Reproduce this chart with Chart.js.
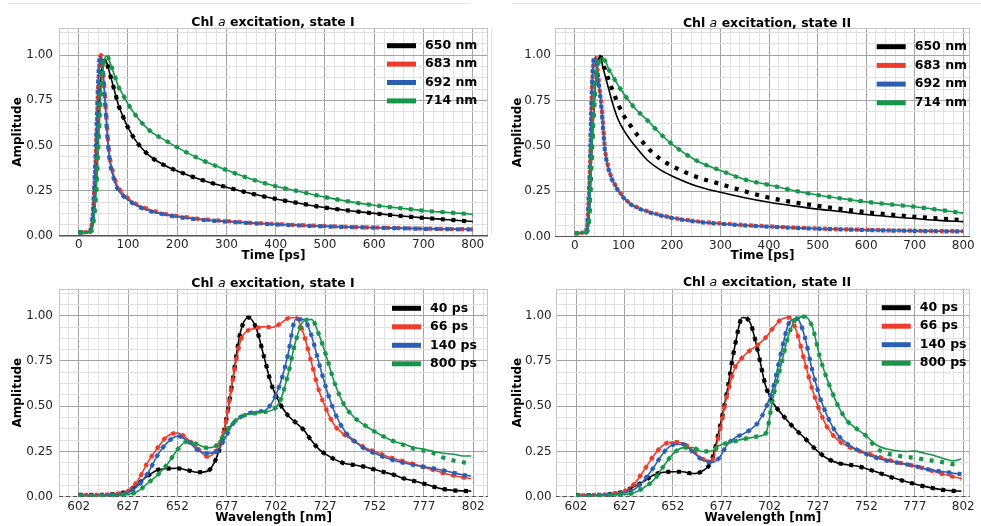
<!DOCTYPE html>
<html>
<head>
<meta charset="utf-8">
<script src="https://cdn.jsdelivr.net/npm/chart.js@4.4.1/dist/chart.umd.min.js"></script>
<style>
  body { margin: 0; background: #fff; width: 981px; height: 526px; position: relative; overflow: hidden; font-family: "DejaVu Sans", sans-serif; }
  canvas { position: absolute; }
  .ttl { position: absolute; font-weight: bold; font-size: 12.5px; transform: translate(-50%, -50%); white-space: nowrap; color: #000; }
  .ttl i { font-weight: normal; }
  .rule { position: absolute; background: #e6e6e6; }
</style>
</head>
<body>
<div class="rule" style="left:8px;top:3px;width:462px;height:1px"></div>
<div class="rule" style="left:512px;top:3px;width:469px;height:1px"></div>
<div class="rule" style="left:491px;top:28px;width:1px;height:206px"></div>

<canvas id="p1" width="490" height="266" style="left:0;top:0"></canvas>
<canvas id="p2" width="489" height="266" style="left:492px;top:0"></canvas>
<canvas id="p3" width="490" height="258" style="left:0;top:268px"></canvas>
<canvas id="p4" width="489" height="258" style="left:492px;top:268px"></canvas>

<div class="ttl" style="left:273px;top:20.5px">Chl <i>a</i> excitation, state I</div>
<div class="ttl" style="left:767px;top:21.5px">Chl <i>a</i> excitation, state II</div>
<div class="ttl" style="left:273px;top:281.5px">Chl <i>a</i> excitation, state I</div>
<div class="ttl" style="left:767px;top:281px">Chl <i>a</i> excitation, state II</div>

<script>
// ---- data: decay traces ----
const timePs = [0, 10, 20, 25, 28, 31, 34, 37, 40, 43, 46, 49, 52, 55, 58, 62, 66, 70, 75, 80,
  90, 100, 115, 130, 150, 175, 200, 250, 300, 350, 400, 450, 500, 550, 600, 650, 700, 750, 800];

// state I
const nm650_I = [0.02, 0.02, 0.022, 0.03, 0.06, 0.14, 0.27, 0.45, 0.64, 0.80, 0.90, 0.95, 0.975, 0.97, 0.95, 0.91, 0.87, 0.83, 0.78, 0.73,
  0.66, 0.60, 0.53, 0.48, 0.43, 0.39, 0.36, 0.31, 0.27, 0.235, 0.205, 0.18, 0.157, 0.14, 0.125, 0.112, 0.10, 0.09, 0.08];
const nm683_I = [0.02, 0.02, 0.025, 0.04, 0.10, 0.22, 0.40, 0.62, 0.85, 0.98, 1.0, 0.93, 0.82, 0.70, 0.58, 0.46, 0.39, 0.35, 0.30, 0.27,
  0.235, 0.21, 0.18, 0.16, 0.14, 0.122, 0.11, 0.093, 0.082, 0.073, 0.066, 0.06, 0.055, 0.05, 0.047, 0.044, 0.041, 0.039, 0.037];
const nm692_I = [0.02, 0.02, 0.025, 0.045, 0.11, 0.24, 0.43, 0.66, 0.88, 0.99, 0.99, 0.91, 0.80, 0.68, 0.56, 0.44, 0.37, 0.33, 0.285, 0.255,
  0.222, 0.20, 0.172, 0.152, 0.134, 0.118, 0.106, 0.09, 0.08, 0.071, 0.064, 0.058, 0.053, 0.049, 0.046, 0.043, 0.04, 0.038, 0.036];
const nm714_I = [0.02, 0.02, 0.022, 0.025, 0.04, 0.10, 0.18, 0.32, 0.50, 0.68, 0.84, 0.93, 0.97, 0.995, 0.995, 0.97, 0.94, 0.91, 0.87, 0.83,
  0.78, 0.73, 0.67, 0.62, 0.57, 0.53, 0.49, 0.42, 0.365, 0.315, 0.275, 0.245, 0.215, 0.19, 0.17, 0.155, 0.14, 0.13, 0.12];

// state II
const nm650_II = [0.02, 0.02, 0.02, 0.03, 0.07, 0.20, 0.42, 0.60, 0.74, 0.86, 0.94, 0.98, 1.0, 0.97, 0.93, 0.89, 0.85, 0.81, 0.76, 0.715,
  0.64, 0.59, 0.53, 0.48, 0.42, 0.37, 0.335, 0.28, 0.245, 0.215, 0.19, 0.17, 0.152, 0.138, 0.122, 0.11, 0.10, 0.09, 0.083];
const nm650_II_dots = [0.02, 0.02, 0.02, 0.03, 0.07, 0.20, 0.42, 0.60, 0.74, 0.86, 0.94, 0.98, 1.0, 0.975, 0.95, 0.92, 0.89, 0.86, 0.825, 0.79,
  0.725, 0.67, 0.61, 0.555, 0.49, 0.43, 0.39, 0.33, 0.29, 0.25, 0.215, 0.19, 0.17, 0.152, 0.135, 0.122, 0.11, 0.10, 0.092];
const nm683_II = [0.02, 0.02, 0.025, 0.05, 0.18, 0.36, 0.70, 0.91, 0.98, 0.985, 0.93, 0.86, 0.79, 0.72, 0.62, 0.48, 0.42, 0.37, 0.33, 0.30,
  0.255, 0.22, 0.18, 0.16, 0.14, 0.12, 0.105, 0.085, 0.073, 0.064, 0.057, 0.05, 0.045, 0.041, 0.038, 0.035, 0.033, 0.031, 0.03];
const nm692_II = [0.02, 0.02, 0.025, 0.055, 0.20, 0.40, 0.73, 0.93, 0.985, 0.98, 0.92, 0.85, 0.78, 0.70, 0.60, 0.47, 0.41, 0.365, 0.325, 0.295,
  0.25, 0.215, 0.178, 0.157, 0.137, 0.118, 0.103, 0.083, 0.071, 0.062, 0.055, 0.049, 0.044, 0.04, 0.037, 0.034, 0.032, 0.03, 0.029];
const nm714_II = [0.02, 0.02, 0.02, 0.03, 0.06, 0.20, 0.45, 0.60, 0.74, 0.86, 0.93, 0.96, 0.975, 0.985, 0.985, 0.97, 0.95, 0.92, 0.90, 0.875,
  0.83, 0.79, 0.735, 0.69, 0.64, 0.57, 0.51, 0.42, 0.365, 0.315, 0.285, 0.255, 0.23, 0.21, 0.192, 0.178, 0.165, 0.148, 0.13];

// ---- data: spectra ----
const wavelengthNm = [602, 607, 612, 617, 622, 627, 632, 637, 642, 647, 652, 657, 662, 667, 672,
  676, 680, 684, 688, 692, 696, 700, 704, 708, 712, 716, 720, 724, 728, 732,
  737, 742, 747, 752, 757, 762, 767, 772, 777, 782, 787, 792, 797, 801];

const ps40_I = [0.01, 0.01, 0.01, 0.012, 0.018, 0.03, 0.07, 0.115, 0.148, 0.155, 0.157, 0.147, 0.135, 0.14, 0.22,
  0.38, 0.64, 0.91, 0.99, 0.93, 0.77, 0.61, 0.515, 0.45, 0.41, 0.37, 0.31, 0.26, 0.23, 0.205,
  0.183, 0.175, 0.165, 0.15, 0.135, 0.12, 0.10, 0.087, 0.072, 0.055, 0.042, 0.035, 0.032, 0.031];
const ps66_I = [0.01, 0.01, 0.01, 0.012, 0.018, 0.032, 0.09, 0.19, 0.27, 0.335, 0.352, 0.32, 0.27, 0.222, 0.262,
  0.38, 0.64, 0.86, 0.92, 0.93, 0.94, 0.935, 0.955, 0.985, 0.99, 0.90, 0.74, 0.58, 0.47, 0.39,
  0.34, 0.305, 0.272, 0.25, 0.228, 0.21, 0.195, 0.18, 0.163, 0.147, 0.13, 0.117, 0.106, 0.10];
const ps140_I = [0.008, 0.008, 0.008, 0.01, 0.013, 0.022, 0.06, 0.13, 0.23, 0.30, 0.335, 0.31, 0.26, 0.24, 0.25,
  0.32, 0.40, 0.44, 0.46, 0.47, 0.475, 0.52, 0.62, 0.78, 0.98, 0.98, 0.89, 0.73, 0.58, 0.46,
  0.36, 0.305, 0.265, 0.24, 0.218, 0.20, 0.186, 0.175, 0.165, 0.156, 0.145, 0.132, 0.12, 0.114];
const ps800_I = [0.005, 0.005, 0.005, 0.006, 0.008, 0.012, 0.03, 0.075, 0.12, 0.18, 0.26, 0.305, 0.29, 0.27, 0.285,
  0.35, 0.405, 0.44, 0.455, 0.462, 0.468, 0.478, 0.525, 0.67, 0.86, 0.97, 0.98, 0.89, 0.76, 0.62,
  0.50, 0.435, 0.395, 0.36, 0.33, 0.305, 0.29, 0.272, 0.262, 0.25, 0.24, 0.235, 0.225, 0.225];
const ps800_I_dots = [0.005, 0.005, 0.005, 0.006, 0.008, 0.012, 0.03, 0.075, 0.12, 0.18, 0.26, 0.305, 0.29, 0.27, 0.285,
  0.35, 0.405, 0.44, 0.455, 0.462, 0.468, 0.478, 0.525, 0.67, 0.86, 0.97, 0.98, 0.89, 0.76, 0.62,
  0.50, 0.435, 0.395, 0.36, 0.33, 0.305, 0.285, 0.265, 0.255, 0.24, 0.215, 0.20, 0.19, 0.175];

const ps40_II = [0.008, 0.008, 0.01, 0.012, 0.018, 0.03, 0.056, 0.085, 0.12, 0.135, 0.138, 0.138, 0.128, 0.14, 0.20,
  0.37, 0.58, 0.83, 0.99, 0.96, 0.80, 0.61, 0.515, 0.46, 0.41, 0.365, 0.325, 0.28, 0.24, 0.21,
  0.187, 0.177, 0.17, 0.155, 0.138, 0.118, 0.10, 0.085, 0.07, 0.057, 0.046, 0.037, 0.032, 0.031];
const ps66_II = [0.008, 0.008, 0.01, 0.012, 0.02, 0.03, 0.07, 0.145, 0.225, 0.285, 0.302, 0.295, 0.26, 0.21, 0.20,
  0.35, 0.56, 0.71, 0.77, 0.81, 0.84, 0.88, 0.935, 0.98, 0.99, 0.91, 0.75, 0.595, 0.47, 0.38,
  0.315, 0.28, 0.258, 0.24, 0.225, 0.207, 0.193, 0.181, 0.169, 0.155, 0.14, 0.124, 0.11, 0.10];
const ps140_II = [0.006, 0.006, 0.008, 0.01, 0.014, 0.022, 0.04, 0.09, 0.16, 0.24, 0.287, 0.29, 0.25, 0.205, 0.188,
  0.215, 0.285, 0.325, 0.345, 0.37, 0.41, 0.49, 0.61, 0.80, 0.96, 0.985, 0.89, 0.70, 0.55, 0.44,
  0.345, 0.293, 0.26, 0.235, 0.215, 0.20, 0.19, 0.18, 0.17, 0.155, 0.145, 0.138, 0.13, 0.125];
const ps800_II = [0.005, 0.005, 0.006, 0.007, 0.009, 0.012, 0.022, 0.05, 0.09, 0.165, 0.235, 0.27, 0.272, 0.25, 0.252,
  0.283, 0.297, 0.307, 0.318, 0.325, 0.333, 0.35, 0.56, 0.73, 0.90, 0.985, 0.995, 0.94, 0.77, 0.64,
  0.51, 0.42, 0.375, 0.335, 0.287, 0.265, 0.255, 0.25, 0.252, 0.24, 0.228, 0.21, 0.198, 0.208];
const ps800_II_dots = [0.005, 0.005, 0.006, 0.007, 0.009, 0.012, 0.022, 0.05, 0.09, 0.165, 0.235, 0.27, 0.272, 0.25, 0.252,
  0.283, 0.297, 0.307, 0.318, 0.325, 0.333, 0.35, 0.56, 0.73, 0.90, 0.985, 0.995, 0.94, 0.77, 0.64,
  0.51, 0.42, 0.375, 0.335, 0.27, 0.24, 0.23, 0.22, 0.215, 0.205, 0.198, 0.19, 0.18, 0.185];

// ---- labels / ticks ----
const traceLabels = ['650 nm', '683 nm', '692 nm', '714 nm'];
const spectrumLabels = ['40 ps', '66 ps', '140 ps', '800 ps'];
const timeTicks = [0, 100, 200, 300, 400, 500, 600, 700, 800];
const wavelengthTicks = [602, 627, 652, 677, 702, 727, 752, 777, 802];
const amplitudeTicks = [0, 0.25, 0.5, 0.75, 1.0];

const colors = ['#000000', '#ee3b2b', '#2c5fb3', '#17964a'];
const FONT = 'DejaVu Sans';
Chart.defaults.font.family = FONT;

function pts(xs, ys) {
  return xs.map((x, i) => ({ x: x, y: ys[i] }));
}

function minorList(majors, step, lo, hi) {
  let start = majors[0] - Math.floor((majors[0] - lo) / step + 1e-9) * step;
  const out = [];
  for (let v = start; v <= hi + 1e-9; v += step) out.push(Math.round(v * 1e4) / 1e4);
  return out;
}

function isMajor(list, v) {
  return list.some(m => Math.abs(m - v) < 1e-6);
}

// frame round the axes
const framePlugin = {
  id: 'frame',
  beforeDatasetsDraw(chart, args, o) {
    const { left, top, right, bottom } = chart.chartArea;
    const ctx = chart.ctx;
    ctx.save();
    ctx.lineWidth = 1;
    ctx.strokeStyle = '#c6c6c6';
    ctx.strokeRect(Math.round(left) + 0.5, Math.round(top) + 0.5, Math.round(right - left) - 1, Math.round(bottom - top) - 1);
    if (o.bottomColor) {
      ctx.strokeStyle = o.bottomColor;
      ctx.beginPath();
      ctx.moveTo(left, Math.round(bottom) - 0.5);
      ctx.lineTo(right, Math.round(bottom) - 0.5);
      ctx.stroke();
    }
    ctx.restore();
  }
};

// matplotlib-like legend with thick line samples
const legendPlugin = {
  id: 'lineLegend',
  afterDatasetsDraw(chart, args, o) {
    const ctx = chart.ctx;
    ctx.save();
    ctx.font = 'bold 12.5px "' + FONT + '"';
    ctx.textBaseline = 'middle';
    o.labels.forEach((lab, i) => {
      const y = o.y + i * o.gap;
      ctx.strokeStyle = o.colors[i];
      ctx.lineWidth = 5;
      ctx.lineCap = 'butt';
      ctx.beginPath();
      ctx.moveTo(o.x, y);
      ctx.lineTo(o.x + 29, y);
      ctx.stroke();
      ctx.fillStyle = '#000';
      ctx.fillText(lab, o.x + 38, y);
    });
    ctx.restore();
  }
};

function makePanel(id, p) {
  const c = p.canvas, a = p.area;
  const xTicks = minorList(p.xMajor, p.xStep, p.xMin, p.xMax);
  const yTicks = minorList(amplitudeTicks, 0.0625, 0, 1.13);
  const datasets = [];
  // first dataset is drawn on top in Chart.js, so go from last series to first
  for (let i = p.series.length - 1; i >= 0; i--) {
    const s = p.series[i];
    datasets.push({
      data: pts(p.xs, s.fit),
      borderColor: colors[i],
      borderWidth: 1.6,
      pointRadius: 0,
      cubicInterpolationMode: 'monotone'
    });
    datasets.push({
      data: pts(p.xs, s.dots || s.fit),
      borderColor: colors[i],
      borderWidth: 4.2,
      borderDash: [4, 6.6],
      borderDashOffset: i === 1 ? 5.3 : 0,
      borderCapStyle: 'butt',
      pointRadius: 0,
      cubicInterpolationMode: 'monotone'
    });
  }
  if (p.zeroLine) {
    datasets.push({
      data: [{ x: p.xMin, y: 0 }, { x: p.xMax, y: 0 }],
      borderColor: '#000',
      borderWidth: 1,
      borderDash: [4, 3],
      pointRadius: 0
    });
  }

  new Chart(document.getElementById(id), {
    type: 'line',
    data: { datasets: datasets },
    plugins: [framePlugin, legendPlugin],
    options: {
      responsive: false,
      animation: false,
      layout: {
        autoPadding: false,
        padding: { left: 0, top: a.t - c.top, right: c.left + c.width - a.r, bottom: 0 }
      },
      plugins: {
        legend: { display: false },
        tooltip: { enabled: false },
        frame: { bottomColor: p.zeroLine ? null : '#555' },
        lineLegend: { labels: p.labels, colors: colors, x: p.legend.x, y: p.legend.y, gap: p.legend.gap }
      },
      scales: {
        x: {
          type: 'linear',
          min: p.xMin,
          max: p.xMax,
          afterBuildTicks: s => { s.ticks = xTicks.map(v => ({ value: v })); },
          afterFit: s => { s.height = c.top + c.height - a.b; },
          ticks: {
            autoSkip: false, maxRotation: 0, padding: p.xPad,
            font: { size: 12 }, color: '#262626',
            callback: v => isMajor(p.xMajor, v) ? String(Math.round(v)) : ''
          },
          grid: {
            drawTicks: false,
            lineWidth: 1,
            color: ctx => ctx.tick && isMajor(p.xMajor, ctx.tick.value) ? '#a4a4a4' : '#e2e2e2'
          },
          border: { display: false },
          title: {
            display: true, text: p.xTitle, color: '#000',
            font: { size: 12, weight: 'bold' },
            padding: { top: 0, bottom: p.xTitlePad }
          }
        },
        y: {
          type: 'linear',
          min: 0,
          max: 1.15,
          afterBuildTicks: s => { s.ticks = yTicks.map(v => ({ value: v })); },
          afterFit: s => { s.width = a.l - c.left; },
          ticks: {
            autoSkip: false, padding: p.yPad,
            font: { size: 12 }, color: '#262626',
            callback: v => isMajor(amplitudeTicks, v) ? v.toFixed(2) : ''
          },
          grid: {
            drawTicks: false,
            lineWidth: 1,
            color: ctx => ctx.tick && isMajor(amplitudeTicks, ctx.tick.value) ? '#a4a4a4' : '#e2e2e2'
          },
          border: { display: false },
          title: {
            display: true, text: 'Amplitude', color: '#000',
            font: { size: 12, weight: 'bold' },
            padding: { top: p.yTitlePad, bottom: 0 }
          }
        }
      }
    }
  });
}

makePanel('p1', {
  canvas: { left: 0, top: 0, width: 490, height: 266 },
  area: { l: 59, t: 28, r: 488, b: 236 },
  xMin: -40, xMax: 831, xMajor: timeTicks, xStep: 20, xs: timePs,
  xTitle: 'Time [ps]', xPad: 2, xTitlePad: 2.8, yPad: 6, yTitlePad: 10.8,
  labels: traceLabels,
  legend: { x: 387, y: 45.7, gap: 18.4 },
  series: [{ fit: nm650_I }, { fit: nm683_I }, { fit: nm692_I }, { fit: nm714_I }]
});

makePanel('p2', {
  canvas: { left: 492, top: 0, width: 489, height: 266 },
  area: { l: 555, t: 28, r: 970, b: 236.7 },
  xMin: -41, xMax: 814, xMajor: timeTicks, xStep: 20, xs: timePs,
  xTitle: 'Time [ps]', xPad: 1.5, xTitlePad: 2.8, yPad: 4, yTitlePad: 18.8,
  labels: traceLabels,
  legend: { x: 384.7, y: 46.7, gap: 18.7 },
  series: [{ fit: nm650_II, dots: nm650_II_dots }, { fit: nm683_II }, { fit: nm692_II }, { fit: nm714_II }]
});

makePanel('p3', {
  canvas: { left: 0, top: 268, width: 490, height: 258 },
  area: { l: 59, t: 288.6, r: 488, b: 496.7 },
  xMin: 592, xMax: 809.5, xMajor: wavelengthTicks, xStep: 5, xs: wavelengthNm,
  xTitle: 'Wavelength [nm]', xPad: 3, xTitlePad: 0.8, yPad: 6, yTitlePad: 10.8,
  labels: spectrumLabels, zeroLine: true,
  legend: { x: 392, y: 40.3, gap: 18.5 },
  series: [{ fit: ps40_I }, { fit: ps66_I }, { fit: ps140_I }, { fit: ps800_I, dots: ps800_I_dots }]
});

makePanel('p4', {
  canvas: { left: 492, top: 268, width: 489, height: 258 },
  area: { l: 555.7, t: 288.6, r: 970, b: 496.7 },
  xMin: 591.5, xMax: 805.5, xMajor: wavelengthTicks, xStep: 5, xs: wavelengthNm,
  xTitle: 'Wavelength [nm]', xPad: 3, xTitlePad: 0.8, yPad: 4, yTitlePad: 18.8,
  labels: spectrumLabels, zeroLine: true,
  legend: { x: 389.7, y: 39.7, gap: 18.5 },
  series: [{ fit: ps40_II }, { fit: ps66_II }, { fit: ps140_II }, { fit: ps800_II, dots: ps800_II_dots }]
});
</script>
</body>
</html>
